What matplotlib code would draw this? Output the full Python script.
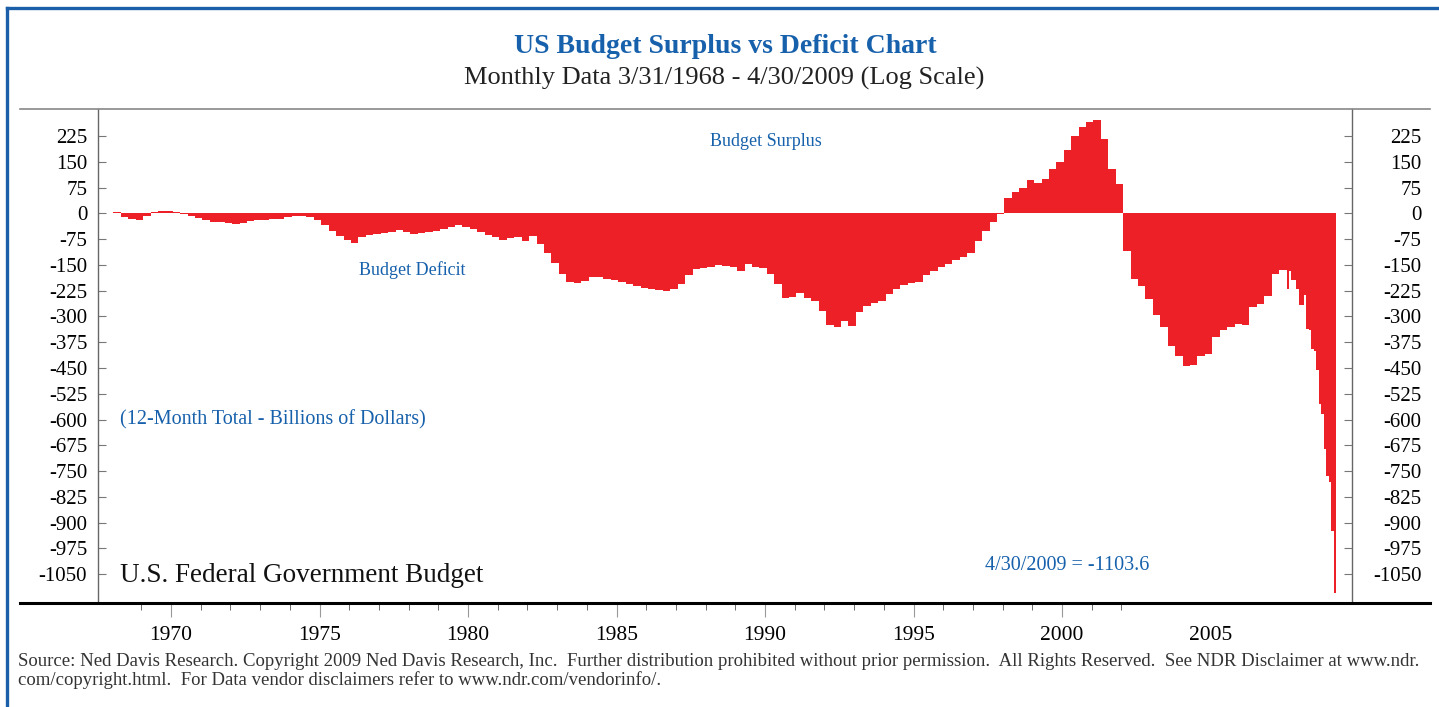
import numpy as np
import matplotlib
matplotlib.use("Agg")
import matplotlib.pyplot as plt
from matplotlib.lines import Line2D

plt.rcParams['font.family'] = ['Liberation Serif', 'DejaVu Serif']

# 12-month total budget balance, billions of dollars
# quarterly steps from early 1968 to mid 2007, then monthly to 4/30/2009
q_start = 1968.06
q_1968_1977 = [5, -10, -15, -19, -8, 4, 7, 8, 5, -2, -9, -14, -20, -24, -26, -29,
               -31, -28, -22, -19, -19, -17, -15, -11, -9, -8, -10, -20, -35, -52,
               -66, -78, -85, -70, -64, -60, -57, -53, -49, -53]
q_1978_1987 = [-60, -58, -55, -51, -45, -39, -35, -40, -46, -55, -62, -70, -77, -72,
               -68, -80, -65, -88, -115, -145, -175, -199, -204, -198, -185, -184,
               -190, -193, -199, -205, -212, -218, -220, -222, -225, -220, -205,
               -178, -162, -158]
q_1988_1997 = [-155, -150, -152, -155, -168, -148, -156, -160, -175, -205, -245,
               -243, -233, -245, -255, -285, -325, -330, -314, -328, -287, -270,
               -262, -255, -235, -220, -209, -204, -199, -180, -168, -156, -146,
               -136, -128, -115, -80, -52, -25, -3]
q_1998_2007 = [45, 62, 75, 98, 88, 100, 128, 148, 185, 225, 252, 265, 272, 215, 130,
               85, -110, -190, -212, -250, -295, -330, -385, -415, -445, -440, -415,
               -410, -360, -338, -330, -322, -325, -272, -263, -240, -175, -165]
m_2007_2009 = [-219, -168, -195, -195, -219, -267, -267, -238, -336, -340, -394,
               -400, -457, -554, -584, -686, -764, -783, -924, -1103.6]

y_ticks = [225, 150, 75, 0, -75, -150, -225, -300, -375, -450, -525, -600, -675,
           -750, -825, -900, -975, -1050]
x_years = [1970, 1975, 1980, 1985, 1990, 1995, 2000, 2005]

red = '#ED1F27'
blue = '#1761AC'
W, H = 1439, 707


def fx(px):
    return px / W


def fy(py):
    return 1 - py / H


q_vals = np.array(q_1968_1977 + q_1978_1987 + q_1988_1997 + q_1998_2007, float)
m_vals = np.array(m_2007_2009, float)
q_edges = q_start + 0.25 * np.arange(len(q_vals) + 1)
m_edges = q_edges[-1] + np.arange(len(m_vals) + 1) / 12
xs = np.concatenate([q_edges[:-1], m_edges])
ys = np.concatenate([q_vals, m_vals, m_vals[-1:]])

fig = plt.figure(figsize=(W / 100, H / 100), dpi=100)
left, right, top, bottom = 98.3, 1352, 109, 603.3
ax = fig.add_axes([fx(left), fy(bottom), fx(right - left), (bottom - top) / H])
ax.fill_between(xs, ys, 0, step='post', color=red, linewidth=0)

ax.set_xlim(1967.552, 2009.764)
ax.set_ylim(-1134.5, 303.6)

for s in ['top', 'bottom']:
    ax.spines[s].set_visible(False)
for s in ['left', 'right']:
    ax.spines[s].set_color('#666666')
    ax.spines[s].set_linewidth(1.0)

ax.set_yticks(y_ticks)
ax.set_yticklabels([str(v) for v in y_ticks], fontsize=15)
ax.tick_params(axis='y', direction='in', length=6, color='#777777', pad=8)

ax2 = ax.twinx()
ax2.set_ylim(ax.get_ylim())
ax2.set_yticks(y_ticks)
ax2.set_yticklabels([str(v) for v in y_ticks], fontsize=15)
for lab in ax2.get_yticklabels():
    lab.set_horizontalalignment('right')
ax2.tick_params(axis='y', direction='in', length=6, color='#777777', pad=50)
for s in ['top', 'bottom', 'left', 'right']:
    ax2.spines[s].set_visible(False)

ax.set_xticks(x_years)
ax.set_xticklabels([str(v) for v in x_years], fontsize=15.5)
ax.set_xticks(range(1969, 2003), minor=True)
ax.tick_params(axis='x', which='major', direction='out', length=10, color='#999999', pad=6)
ax.tick_params(axis='x', which='minor', direction='out', length=5, color='#555555')
ax.xaxis.get_major_ticks()[-1].tick1line.set_visible(False)

# frame lines
fig.add_artist(Line2D([fx(20), fx(1430)], [fy(109), fy(109)], color='#888888', lw=1.2))
fig.add_artist(Line2D([fx(20), fx(1430)], [fy(603.3), fy(603.3)], color='black', lw=2.2))
fig.add_artist(Line2D([fx(6.5), fx(1439)], [fy(7.5), fy(7.5)], color='#1B5FA8', lw=2.4))
fig.add_artist(Line2D([fx(6.5), fx(6.5)], [fy(7.5), 0], color='#1B5FA8', lw=2.4))

fig.text(fx(725), fy(53), 'US Budget Surplus vs Deficit Chart', color=blue,
         fontsize=20, fontweight='bold', ha='center', va='baseline')
fig.text(fx(724), fy(85), 'Monthly Data 3/31/1968 - 4/30/2009 (Log Scale)',
         color='#222222', fontsize=19, ha='center', va='baseline')

fig.text(fx(766), fy(142), 'Budget Surplus', color=blue, fontsize=13, ha='center', va='center')
fig.text(fx(412), fy(270), 'Budget Deficit', color=blue, fontsize=13, ha='center', va='center')
fig.text(fx(120), fy(420), '(12-Month Total - Billions of Dollars)', color=blue,
         fontsize=14.5, ha='left', va='center')
fig.text(fx(120), fy(575), 'U.S. Federal Government Budget', color='#111111',
         fontsize=19.5, ha='left', va='center')
fig.text(fx(1067), fy(566), '4/30/2009 = -1103.6', color=blue, fontsize=14.5,
         ha='center', va='center')

fig.text(fx(18), fy(661), 'Source: Ned Davis Research. Copyright 2009 Ned Davis Research, Inc.  '
         'Further distribution prohibited without prior permission.  All Rights Reserved.  '
         'See NDR Disclaimer at www.ndr.', color='#333333', fontsize=13.5, ha='left', va='center')
fig.text(fx(18), fy(680), 'com/copyright.html.  For Data vendor disclaimers refer to '
         'www.ndr.com/vendorinfo/.', color='#333333', fontsize=13.5, ha='left', va='center')

fig.savefig('out.png', dpi=100)
